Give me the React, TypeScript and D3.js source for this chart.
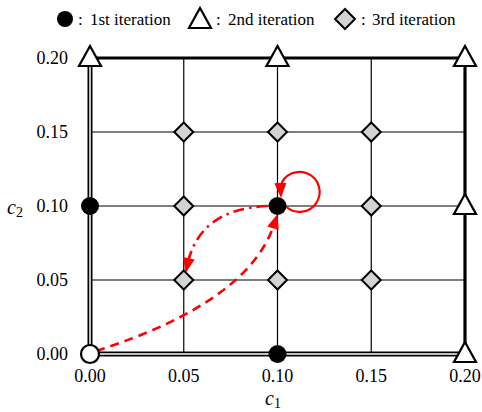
import React from "react";
import * as d3 from "d3";

const ticks = [0, 0.05, 0.1, 0.15, 0.2];
const tickLabels = ["0.00", "0.05", "0.10", "0.15", "0.20"];
const firstIter: [number, number][] = [[0, 0.1], [0.1, 0.1], [0.1, 0]];
const startPt: [number, number][] = [[0, 0]];
const secondIter: [number, number][] = [[0, 0.2], [0.1, 0.2], [0.2, 0.2], [0.2, 0.1], [0.2, 0]];
const thirdIter: [number, number][] = [
  [0.05, 0.15], [0.1, 0.15], [0.15, 0.15],
  [0.05, 0.1], [0.15, 0.1],
  [0.05, 0.05], [0.1, 0.05], [0.15, 0.05],
];
const legendLabels = ["1st iteration", "2nd iteration", "3rd iteration"];

const W = 482, H = 412;
const FONT = "'Liberation Serif', 'Times New Roman', 'DejaVu Serif', serif";

function head(tip: number[], from: number[], len = 15, w = 12) {
  const dx = tip[0] - from[0], dy = tip[1] - from[1];
  const L = Math.hypot(dx, dy);
  const ux = dx / L, uy = dy / L;
  const bx = tip[0] - ux * len, by = tip[1] - uy * len;
  const px = -uy * (w / 2), py = ux * (w / 2);
  return `M${tip[0]},${tip[1]} L${bx + px},${by + py} L${bx - px},${by - py} Z`;
}

export default function App() {
  const x = d3.scaleLinear().domain([0, 0.2]).range([90, 465]);
  const y = d3.scaleLinear().domain([0, 0.2]).range([354, 58]);
  const red = "#ff0000";
  const ts = { fontFamily: FONT };

  const tri = (cx: number, cy: number) => {
    const h = 20, w = 22;
    return `M${cx},${cy - h * 0.6} L${cx + w / 2},${cy + h * 0.4} L${cx - w / 2},${cy + h * 0.4} Z`;
  };
  const dia = (cx: number, cy: number, r = 9.5) =>
    `M${cx},${cy - r} L${cx + r},${cy} L${cx},${cy + r} L${cx - r},${cy} Z`;

  // dashed arrow (0,0) -> (0.1,0.1)
  const p0 = [x(0) + 6, y(0) - 3];
  const pc = [x(0.085), y(0.035)];
  const p1 = [x(0.1), y(0.1) + 8];
  const pStop = [p1[0] - (p1[0] - pc[0]) * 0.1, p1[1] - (p1[1] - pc[1]) * 0.1];
  const dashedPath = `M${p0[0]},${p0[1]} Q${pc[0]},${pc[1]} ${pStop[0]},${pStop[1]}`;
  // dash-dot arrow (0.1,0.1) -> (0.05,0.05)
  const q0 = [x(0.1) - 10, y(0.1)];
  const qc = [x(0.058), y(0.098)];
  const q1 = [x(0.05) + 2, y(0.05) - 7];
  const qStop = [q1[0] - (q1[0] - qc[0]) * 0.12, q1[1] - (q1[1] - qc[1]) * 0.12];
  const dashDotPath = `M${q0[0]},${q0[1]} Q${qc[0]},${qc[1]} ${qStop[0]},${qStop[1]}`;
  // self loop
  const ls = [x(0.1) + 9, y(0.1) + 1];
  const le = [x(0.1) + 3, y(0.1) - 20];
  const lTip = [x(0.1) + 3.5, y(0.1) - 8];
  const loopPath = `M${ls[0]},${ls[1]} A20,20 0 1 0 ${le[0]},${le[1]}`;

  return (
    <svg width={W} height={H} style={{ display: "block", position: "absolute", left: 0, top: 0 }}>
      <rect width={W} height={H} fill="#fff" />
      {/* interior grid */}
      {ticks.slice(1, 4).map((t, i) => (
        <g key={i}>
          <line x1={x(t)} x2={x(t)} y1={y(0)} y2={y(0.2)} stroke="#000" strokeWidth={1.2} />
          <line x1={x(0)} x2={x(0.2)} y1={y(t)} y2={y(t)} stroke="#000" strokeWidth={1.2} />
        </g>
      ))}
      {/* left double axis */}
      <line x1={x(0)} x2={x(0)} y1={y(0)} y2={y(0.2)} stroke="#000" strokeWidth={5} />
      <line x1={x(0)} x2={x(0)} y1={y(0)} y2={y(0.2)} stroke="#fff" strokeWidth={1.5} />
      {/* bottom double axis */}
      <line x1={x(0)} x2={x(0.2)} y1={y(0)} y2={y(0)} stroke="#000" strokeWidth={5} />
      <line x1={x(0)} x2={x(0.2)} y1={y(0)} y2={y(0)} stroke="#fff" strokeWidth={1.5} />
      {/* top & right thick */}
      <line x1={x(0)} x2={x(0.2)} y1={y(0.2)} y2={y(0.2)} stroke="#000" strokeWidth={3.2} />
      <line x1={x(0.2)} x2={x(0.2)} y1={y(0)} y2={y(0.2)} stroke="#000" strokeWidth={3.2} />

      {/* tick labels */}
      {ticks.map((t, i) => (
        <text key={"x" + i} x={x(t)} y={382} fontSize={18} textAnchor="middle" style={ts}>{tickLabels[i]}</text>
      ))}
      {ticks.map((t, i) => (
        <text key={"y" + i} x={68} y={y(t) + 6} fontSize={18} textAnchor="end" style={ts}>{tickLabels[i]}</text>
      ))}
      {/* axis titles */}
      <text x={265} y={405} fontSize={20} fontStyle="italic" style={ts}>c<tspan fontStyle="normal" fontSize={14} dy={3}>1</tspan></text>
      <text x={7} y={214} fontSize={20} fontStyle="italic" style={ts}>c<tspan fontStyle="normal" fontSize={14} dy={3}>2</tspan></text>

      {/* arrows */}
      <path d={dashedPath} fill="none" stroke={red} strokeWidth={2.6} strokeDasharray="9,6" />
      <path d={head(p1, pc)} fill={red} />
      <path d={dashDotPath} fill="none" stroke={red} strokeWidth={2.6} strokeDasharray="11,5,2.5,5" />
      <path d={head(q1, qc)} fill={red} />
      <path d={loopPath} fill="none" stroke={red} strokeWidth={2.2} />
      <path d={head(lTip, le)} fill={red} />

      {/* markers */}
      {thirdIter.map((p, i) => (
        <path key={"d" + i} d={dia(x(p[0]), y(p[1]))} fill="#d3d3d3" stroke="#000" strokeWidth={2} />
      ))}
      {secondIter.map((p, i) => (
        <path key={"t" + i} d={tri(x(p[0]), y(p[1]))} fill="#fff" stroke="#000" strokeWidth={2.2} />
      ))}
      {firstIter.map((p, i) => (
        <circle key={"c" + i} cx={x(p[0])} cy={y(p[1])} r={9} fill="#000" />
      ))}
      {startPt.map((p, i) => (
        <circle key={"s" + i} cx={x(p[0])} cy={y(p[1])} r={9} fill="#fff" stroke="#000" strokeWidth={2.2} />
      ))}

      {/* legend */}
      <circle cx={65} cy={19} r={8} fill="#000" />
      <text x={78} y={25} fontSize={17} style={ts}>:</text>
      <text x={90} y={25} fontSize={17} style={ts}>{legendLabels[0]}</text>
      <path d={tri(200, 20)} fill="#fff" stroke="#000" strokeWidth={2.2} />
      <text x={216} y={25} fontSize={17} style={ts}>:</text>
      <text x={228} y={25} fontSize={17} style={ts}>{legendLabels[1]}</text>
      <path d={dia(345, 19, 10)} fill="#d3d3d3" stroke="#000" strokeWidth={2} />
      <text x={361} y={25} fontSize={17} style={ts}>:</text>
      <text x={372} y={25} fontSize={17} style={ts}>{legendLabels[2]}</text>
    </svg>
  );
}
